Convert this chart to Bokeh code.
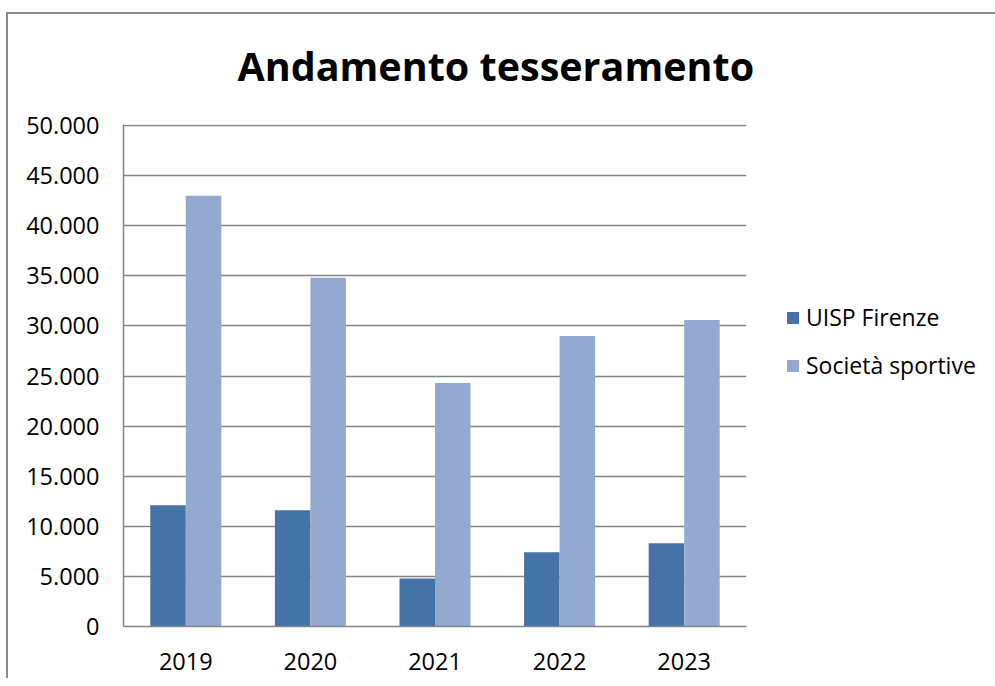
import numpy as np
from bokeh.plotting import figure
from bokeh.models import Range1d, Legend, LegendItem, FixedTicker, Title
from bokeh.embed import file_html
from bokeh.resources import INLINE

# ---- data ----
years = ["2019", "2020", "2021", "2022", "2023"]
uisp_firenze = [12100, 11600, 4800, 7400, 8300]
societa_sportive = [43000, 34800, 24300, 29000, 30600]
series_names = ["UISP Firenze", "Società sportive"]
y_ticks = [0, 5000, 10000, 15000, 20000, 25000, 30000, 35000, 40000, 45000, 50000]
y_tick_labels = ["0", "5.000", "10.000", "15.000", "20.000", "25.000",
                 "30.000", "35.000", "40.000", "45.000", "50.000"]
title_text = "Andamento tesseramento"

# ---- style ----
C_UISP = "#4572A7"
C_SOC = "#94A9D0"
GRID = "#848484"
BORDER = "#8c8c8c"
FONT = "Open Sans"
BAR_W = 0.285
FRAME_H = 502

xc = np.arange(len(years)) + 0.5

p = figure(frame_width=623, frame_height=FRAME_H,
           x_range=Range1d(0, len(years)),
           y_range=Range1d(0, y_ticks[-1] * FRAME_H / (FRAME_H - 1)),
           output_backend="svg", toolbar_location=None, tools="",
           min_border_left=123, min_border_right=241,
           min_border_top=124, min_border_bottom=52,
           styles={
               "background-color": "white",
               "background-image": f"linear-gradient({BORDER},{BORDER}), linear-gradient({BORDER},{BORDER})",
               "background-size": "2px 100%, 100% 2px",
               "background-position": "6px 12px, 6px 12px",
               "background-repeat": "no-repeat",
           })
p.outline_line_color = None
p.background_fill_color = "white"
p.border_fill_alpha = 0

r1 = p.vbar(x=xc - BAR_W / 2, top=uisp_firenze, width=BAR_W,
            fill_color=C_UISP, line_color=None)
r2 = p.vbar(x=xc + BAR_W / 2, top=societa_sportive, width=BAR_W,
            fill_color=C_SOC, line_color=None)

# axes
p.yaxis.ticker = FixedTicker(ticks=y_ticks)
p.yaxis.major_label_overrides = {t: l for t, l in zip(y_ticks, y_tick_labels)}
p.xaxis.ticker = FixedTicker(ticks=list(xc))
p.xaxis.major_label_overrides = {float(x): y for x, y in zip(xc, years)}
for ax in (p.xaxis, p.yaxis):
    ax.axis_line_color = GRID
    ax.axis_line_width = 1.5
    ax.major_tick_in = 0
    ax.major_tick_out = 0
    ax.minor_tick_line_color = None
    ax.major_label_text_font = FONT
    ax.major_label_text_font_size = "23.5px"
    ax.major_label_text_color = "black"
p.yaxis.major_label_standoff = 24
p.xaxis.major_label_standoff = 26

p.xgrid.visible = False
p.ygrid.ticker = FixedTicker(ticks=y_ticks)
p.ygrid.grid_line_color = GRID
p.ygrid.grid_line_width = 1.5

# title
p.title = Title(text=title_text, align="left", offset=114,
                text_font=FONT, text_font_style="bold",
                text_font_size="39.5px", text_color="black", standoff=63)

# legend (right side panel)
legend = Legend(items=[LegendItem(label=series_names[0], renderers=[r1]),
                       LegendItem(label=series_names[1], renderers=[r2])],
                location=(39, 245), orientation="vertical",
                glyph_width=15, glyph_height=15, label_standoff=6,
                spacing=16, padding=0, margin=0,
                border_line_alpha=0, background_fill_alpha=0,
                label_text_font=FONT, label_text_font_size="23px",
                label_text_color="black")
p.add_layout(legend, "right")

open("out.html", "w").write(file_html(p, INLINE))
